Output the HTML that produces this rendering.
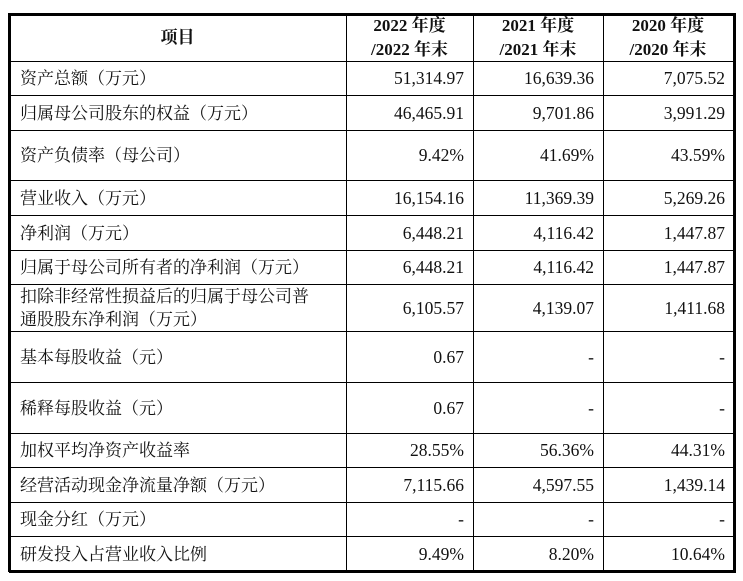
<!DOCTYPE html>
<html><head><meta charset="utf-8"><style>
body{margin:0;width:743px;height:581px;background:#fff;position:relative;overflow:hidden;font-family:"Liberation Serif","Noto Serif CJK SC",serif;color:#111}
.h{position:absolute;left:9px;width:727px;height:1px;background:#000}
.v{position:absolute;top:13px;height:559px;width:1px;background:#000}
.c{position:absolute;font-size:17px;display:flex;align-items:center;line-height:23px}
.l{left:20px;width:326px;white-space:nowrap}
.r{justify-content:flex-end;font-size:17.5px}
.hd{font-weight:bold;justify-content:center;text-align:center;font-size:17px;line-height:24px}
</style></head><body>
<div id="t"></div>
<script>
const labels=["资产总额（万元）","归属母公司股东的权益（万元）","资产负债率（母公司）","营业收入（万元）","净利润（万元）","归属于母公司所有者的净利润（万元）","扣除非经常性损益后的归属于母公司普<br>通股股东净利润（万元）","基本每股收益（元）","稀释每股收益（元）","加权平均净资产收益率","经营活动现金净流量净额（万元）","现金分红（万元）","研发投入占营业收入比例"];
const v2022=["51,314.97","46,465.91","9.42%","16,154.16","6,448.21","6,448.21","6,105.57","0.67","0.67","28.55%","7,115.66","-","9.49%"];
const v2021=["16,639.36","9,701.86","41.69%","11,369.39","4,116.42","4,116.42","4,139.07","-","-","56.36%","4,597.55","-","8.20%"];
const v2020=["7,075.52","3,991.29","43.59%","5,269.26","1,447.87","1,447.87","1,411.68","-","-","44.31%","1,439.14","-","10.64%"];
const ys=[13,61,95,130,180,215,250,284,331,382,433,467,502,536,571];
const xs=[9,346,473,603,735];
const t=document.getElementById('t');
function add(cls,x,y,w,h,html,name){const d=document.createElement('div');d.className=cls;d.style.left=x+'px';d.style.top=y+'px';d.style.width=w+'px';d.style.height=h+'px';d.innerHTML=html;


t.appendChild(d);}
ys.forEach((y,i)=>{const d=document.createElement('div');d.className='h';d.style.top=y+'px';if(i==0||i==ys.length-1){d.style.height='3px';if(i>0)d.style.top=(y-1)+'px';}


t.appendChild(d);});
xs.forEach((x,i)=>{const d=document.createElement('div');d.className='v';d.style.left=(i==0?8:(i==4?733:x))+'px';if(i==0||i==4)d.style.width='3px';


t.appendChild(d);});
add('c hd',9,14,337,47,'项目','header-item');
add('c hd',346,14,127,47,'2022 年度<br>/2022 年末','header-2022');
add('c hd',473,14,130,47,'2021 年度<br>/2021 年末','header-2021');
add('c hd',603,14,130,47,'2020 年度<br>/2020 年末','header-2020');
labels.forEach((lb,i)=>{const y=ys[i+1]+1,h=ys[i+2]-ys[i+1]-1;
add('c l',20,y,326,h,lb,'row-label');
add('c r',346,y,118,h,v2022[i],'value-2022');
add('c r',473,y,121,h,v2021[i],'value-2021');
add('c r',603,y,122,h,v2020[i],'value-2020');});
</script>
</body></html>
